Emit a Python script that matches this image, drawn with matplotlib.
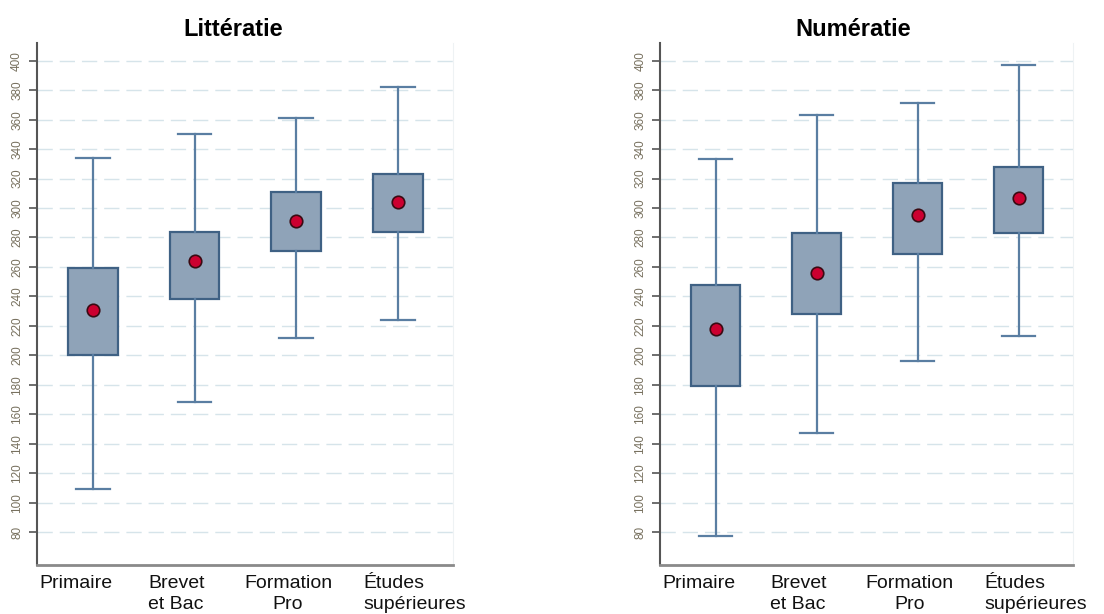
import matplotlib
matplotlib.use("Agg")
import matplotlib.pyplot as plt

plt.rcParams["font.family"] = ["Liberation Sans", "DejaVu Sans"]

CATEGORIES = ["Primaire", "Brevet\net Bac", "Formation\nPro", "Études\nsupérieures"]

# Littératie
LIT_LOW = [109, 168, 212, 224]
LIT_Q1 = [200, 238, 271, 284]
LIT_Q3 = [259, 284, 311, 323]
LIT_HIGH = [334, 350, 361, 382]
LIT_MEAN = [231, 264, 291, 304]

# Numératie
NUM_LOW = [77, 147, 196, 213]
NUM_Q1 = [179, 228, 269, 283]
NUM_Q3 = [248, 283, 317, 328]
NUM_HIGH = [333, 363, 371, 397]
NUM_MEAN = [218, 256, 295, 307]

YTICKS = list(range(80, 401, 20))

BOX_FILL = "#8fa3b8"
BOX_EDGE = "#3f6184"
WHISK = "#5a7ea2"


def draw(ax, low, q1, q3, high, mean):
    stats = []
    for lo, a, b, hi, m in zip(low, q1, q3, high, mean):
        stats.append({"whislo": lo, "q1": a, "med": (a + b) / 2, "q3": b,
                      "whishi": hi, "mean": m, "fliers": []})
    ax.bxp(stats, positions=[1, 2, 3, 4], widths=0.49, patch_artist=True,
           showmeans=True, showfliers=False,
           boxprops=dict(facecolor=BOX_FILL, edgecolor=BOX_EDGE, linewidth=1.6),
           whiskerprops=dict(color=WHISK, linewidth=1.6),
           capprops=dict(color=WHISK, linewidth=1.6),
           capwidths=0.33,
           medianprops=dict(linewidth=0),
           meanprops=dict(marker="o", markerfacecolor="#cc0030",
                          markeredgecolor="#3a0a12", markersize=9,
                          markeredgewidth=1.2))

    ax.set_ylim(57.6, 412)
    ax.set_xlim(0.45, 4.54)
    ax.set_yticks(YTICKS)
    ax.set_yticklabels([str(v) for v in YTICKS], rotation=90, va="center",
                       fontsize=8.5, color="#77705e")
    ax.tick_params(axis="y", length=6, width=1.2, color="#555555", pad=4)
    ax.tick_params(axis="x", length=0, labelbottom=False)
    ax.grid(axis="y", color="#d6e4ea", linewidth=1, linestyle=(0, (11, 5)))
    ax.set_axisbelow(True)

    ax.spines["top"].set_visible(False)
    ax.spines["right"].set_color("#eef2f4")
    ax.spines["left"].set_color("#555555")
    ax.spines["left"].set_linewidth(1.5)
    ax.spines["bottom"].set_color("#8a8a8a")
    ax.spines["bottom"].set_linewidth(2)

    offsets = [-0.17, -0.18, -0.08, 0.17]
    aligns = ["left", "left", "center", "left"]
    for i, (lab, off, al) in enumerate(zip(CATEGORIES, offsets, aligns)):
        ax.text(i + 1 + off, -0.02, lab, transform=ax.get_xaxis_transform(),
                ha="center", va="top", multialignment=al, fontsize=14,
                color="#111111", linespacing=1.25)


fig = plt.figure(figsize=(11.04, 6.14), dpi=100)
ax1 = fig.add_axes([0.0335, 0.0798, 0.3765, 0.85])
ax2 = fig.add_axes([0.598, 0.0798, 0.374, 0.85])

draw(ax1, LIT_LOW, LIT_Q1, LIT_Q3, LIT_HIGH, LIT_MEAN)
draw(ax2, NUM_LOW, NUM_Q1, NUM_Q3, NUM_HIGH, NUM_MEAN)

fig.text(233 / 1104, 1 - 29 / 614, "Littératie", ha="center", va="center",
         fontsize=17, fontweight="bold")
fig.text(853 / 1104, 1 - 29 / 614, "Numératie", ha="center", va="center",
         fontsize=17, fontweight="bold")

fig.savefig("out.png", dpi=100)
